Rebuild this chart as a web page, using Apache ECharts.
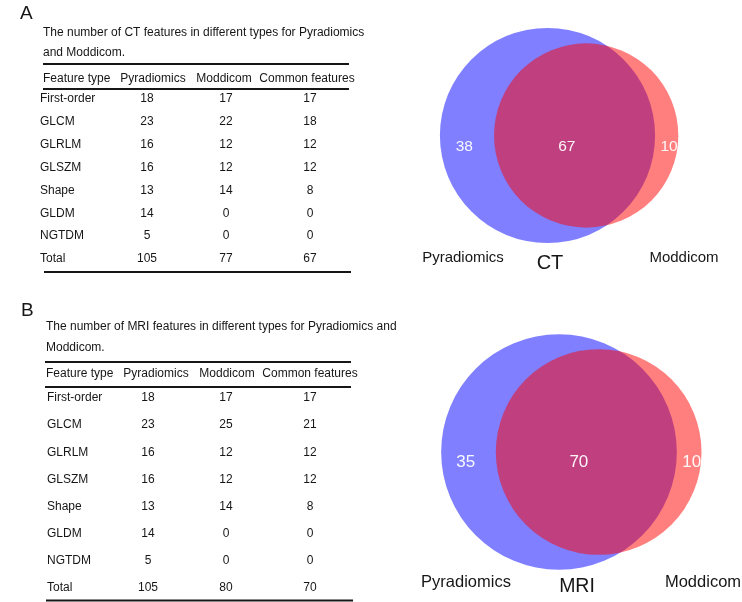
<!DOCTYPE html>
<html><head><meta charset="utf-8">
<script src="https://cdn.jsdelivr.net/npm/echarts@6/dist/echarts.min.js"></script>
<style>html,body{margin:0;padding:0;background:#fff}#c{width:742px;height:602px}</style>
</head><body><div id="c"></div>
<script>
// ---------- data ----------
const tableHeaders = ['Feature type', 'Pyradiomics', 'Moddicom', 'Common features'];
const featureTypes = ['First-order', 'GLCM', 'GLRLM', 'GLSZM', 'Shape', 'GLDM', 'NGTDM', 'Total'];
const ctPyradiomics = [18, 23, 16, 16, 13, 14, 5, 105];
const ctModdicom = [17, 22, 12, 12, 14, 0, 0, 77];
const ctCommon = [17, 18, 12, 12, 8, 0, 0, 67];
const mriPyradiomics = [18, 23, 16, 16, 13, 14, 5, 105];
const mriModdicom = [17, 25, 12, 12, 14, 0, 0, 80];
const mriCommon = [17, 21, 12, 12, 8, 0, 0, 70];
const ctCaption = ['The number of CT features in different types for Pyradiomics', 'and Moddicom.'];
const mriCaption = ['The number of MRI features in different types for Pyradiomics and', 'Moddicom.'];
const setNames = ['Pyradiomics', 'Moddicom'];
const vennTitles = ['CT', 'MRI'];

// ---------- helpers ----------
const FONT = '"Liberation Sans", Arial, Helvetica, sans-serif';
const INK = '#161616';
function txt(text, x, y, size, align, color, extra) {
  return Object.assign({
    type: 'text', silent: true,
    style: { text: String(text), x: x, y: y, font: size + 'px ' + FONT, fill: color || INK,
      textAlign: align || 'left', textVerticalAlign: 'middle', align: align || 'left', verticalAlign: 'middle' }
  }, extra || {});
}
function rule(x1, x2, y) {
  return { type: 'line', silent: true, shape: { x1: x1, y1: y, x2: x2, y2: y }, style: { stroke: INK, lineWidth: 1.8 } };
}
function lensArea(r1, r2, d) {
  if (d >= r1 + r2) return 0;
  if (d <= Math.abs(r1 - r2)) return Math.PI * Math.min(r1, r2) ** 2;
  const a = r1 * r1 * Math.acos((d * d + r1 * r1 - r2 * r2) / (2 * d * r1));
  const b = r2 * r2 * Math.acos((d * d + r2 * r2 - r1 * r1) / (2 * d * r2));
  const c = 0.5 * Math.sqrt((-d + r1 + r2) * (d + r1 - r2) * (d - r1 + r2) * (d + r1 + r2));
  return a + b - c;
}
function vennLayout(A, B, C, ly) {
  const r1 = Math.sqrt(A), r2 = Math.sqrt(B), target = Math.PI * C;
  let lo = Math.abs(r1 - r2), hi = r1 + r2;
  for (let i = 0; i < 80; i++) {
    const m = (lo + hi) / 2;
    if (lensArea(r1, r2, m) > target) lo = m; else hi = m;
  }
  const d = (lo + hi) / 2;
  return {
    circles: [[0, 0, r1], [d, 0, r2]],
    labels: [
      { value: [-r1 + 0.45 * ((d - r2) + r1), ly], name: String(A - C) },
      { value: [d / 2, ly], name: String(C) },
      { value: [r1 + 0.6 * (d + r2 - r1), ly], name: String(B - C) }
    ]
  };
}
function buildTable(L, caption, pyr, mod, com) {
  const g = [];
  g.push(txt(L.letter, L.letterX, L.letterY, 19, 'left'));
  caption.forEach((c, i) => g.push(txt(c, L.capX, L.capY[i], 12, 'left')));
  g.push(rule(L.ruleX1, L.ruleX2, L.topRule));
  g.push(txt(tableHeaders[0], L.hdrX[0], L.hdrY, 12, 'left'));
  for (let k = 1; k < 4; k++) g.push(txt(tableHeaders[k], L.hdrX[k], L.hdrY, 12, 'center'));
  g.push(rule(L.ruleX1, L.ruleX2, L.hdrRule));
  featureTypes.forEach((f, i) => {
    const y = L.rowY0 + i * L.rowStep;
    g.push(txt(f, L.colX[0], y, 12, 'left'));
    g.push(txt(pyr[i], L.colX[1], y, 12, 'center'));
    g.push(txt(mod[i], L.colX[2], y, 12, 'center'));
    g.push(txt(com[i], L.colX[3], y, 12, 'center'));
  });
  g.push(rule(L.ruleX1 + 1, L.ruleX2 + 2, L.botRule));
  return g;
}

const ctVenn = vennLayout(ctPyradiomics[7], ctModdicom[7], ctCommon[7], -1.1);
const mriVenn = vennLayout(mriPyradiomics[7], mriModdicom[7], mriCommon[7], -0.9);

const graphics = []
  .concat(buildTable({ letter: 'A', letterX: 20, letterY: 14, capX: 43, capY: [33, 53], ruleX1: 43, ruleX2: 349,
    topRule: 64, hdrY: 79, hdrRule: 89, hdrX: [43, 153, 224, 307], colX: [40, 147, 226, 310],
    rowY0: 99, rowStep: 22.86, botRule: 272 }, ctCaption, ctPyradiomics, ctModdicom, ctCommon))
  .concat(buildTable({ letter: 'B', letterX: 21, letterY: 311, capX: 46, capY: [327, 348], ruleX1: 45, ruleX2: 351,
    topRule: 362, hdrY: 374, hdrRule: 387, hdrX: [46, 156, 227, 310], colX: [47, 148, 226, 310],
    rowY0: 398, rowStep: 27.14, botRule: 600.5 }, mriCaption, mriPyradiomics, mriModdicom, mriCommon))
  .concat([
    txt(setNames[0], 463, 258, 15, 'center'), txt(vennTitles[0], 550, 263, 20, 'center'), txt(setNames[1], 684, 258, 15, 'center'),
    txt(setNames[0], 466, 582, 16.5, 'center'), txt(vennTitles[1], 577, 587, 19.5, 'center'), txt(setNames[1], 703, 582, 16.5, 'center')
  ]);

const circleColors = ['rgba(0,0,255,0.5)', 'rgba(255,0,0,0.5)'];
function circleSeries(idx, venn) {
  return {
    type: 'custom', xAxisIndex: idx, yAxisIndex: idx, silent: true, z: 2,
    data: venn.circles,
    renderItem: function (params, api) {
      const c = api.coord([api.value(0), api.value(1)]);
      const r = api.size([api.value(2), 0])[0];
      return { type: 'circle', shape: { cx: c[0], cy: c[1], r: r }, style: { fill: circleColors[params.dataIndex], stroke: 'none' } };
    }
  };
}
function labelSeries(idx, venn, size) {
  return {
    type: 'custom', xAxisIndex: idx, yAxisIndex: idx, silent: true, z: 3,
    data: venn.labels,
    renderItem: function (params, api) {
      const c = api.coord([api.value(0), api.value(1)]);
      return txt(venn.labels[params.dataIndex].name, c[0], c[1], size, 'center', 'rgba(255,255,255,0.95)');
    }
  };
}

const chart = echarts.init(document.getElementById('c'), null, { renderer: 'canvas' });
chart.setOption({
  backgroundColor: '#ffffff',
  animation: false,
  grid: [
    { left: 411, top: 20, width: 294, height: 231, show: false },
    { left: 409.5, top: 325.5, width: 322, height: 253, show: false }
  ],
  xAxis: [
    { type: 'value', gridIndex: 0, min: -13, max: 15, show: false },
    { type: 'value', gridIndex: 1, min: -13, max: 15, show: false }
  ],
  yAxis: [
    { type: 'value', gridIndex: 0, min: -11, max: 11, show: false },
    { type: 'value', gridIndex: 1, min: -11, max: 11, show: false }
  ],
  series: [circleSeries(0, ctVenn), labelSeries(0, ctVenn, 15.5), circleSeries(1, mriVenn), labelSeries(1, mriVenn, 17)],
  graphic: graphics
});
</script></body></html>
